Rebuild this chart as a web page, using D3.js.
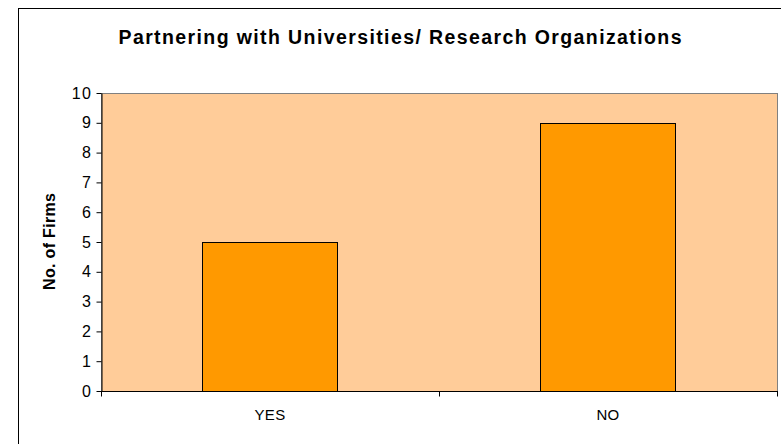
<!DOCTYPE html>
<html>
<head>
<meta charset="utf-8">
<script src="https://cdn.jsdelivr.net/npm/d3@7"></script>
<style>
  html, body { margin: 0; padding: 0; background: #fff; }
  svg { display: block; }
</style>
</head>
<body>
<svg id="chart" width="781" height="444"></svg>
<script>
// Survey responses: firms partnering with universities / research organizations
const categories = ["YES", "NO"];
const firmCounts = [5, 9];
const yTicks = [0, 1, 2, 3, 4, 5, 6, 7, 8, 9, 10];
const chartTitle = "Partnering with Universities/ Research Organizations";
const yTitle = "No. of Firms";

const svg = d3.select("#chart");
const font = "Arial, 'Liberation Sans', Helvetica, sans-serif";

// Outer chart frame
svg.append("rect")
  .attr("x", 18.5).attr("y", 8.5)
  .attr("width", 800).attr("height", 480)
  .attr("fill", "#fff").attr("stroke", "#000").attr("stroke-width", 1);

const plot = { left: 101, top: 93, right: 777, bottom: 391 };

const x = d3.scaleBand()
  .domain(categories)
  .range([plot.left, plot.right])
  .paddingInner(0.6)
  .paddingOuter(0.3);

const y = d3.scaleLinear()
  .domain([0, 10])
  .range([plot.bottom, plot.top]);

// Plot background
svg.append("rect")
  .attr("x", plot.left + 0.5).attr("y", plot.top + 0.5)
  .attr("width", plot.right - plot.left).attr("height", plot.bottom - plot.top)
  .attr("fill", "#ffcc99")
  .attr("stroke", "#808080").attr("stroke-width", 1);

// Bars
svg.append("g").selectAll("rect")
  .data(categories)
  .join("rect")
  .attr("x", d => Math.round(x(d)) + 0.5)
  .attr("y", (d, i) => Math.round(y(firmCounts[i])) + 0.5)
  .attr("width", Math.round(x.bandwidth()))
  .attr("height", (d, i) => Math.round(y(0)) - Math.round(y(firmCounts[i])))
  .attr("fill", "#ff9900")
  .attr("stroke", "#000")
  .attr("stroke-width", 1);

// Y axis
const yAxis = svg.append("g")
  .attr("transform", `translate(${plot.left + 0.5},0)`)
  .call(d3.axisLeft(y).tickValues(yTicks).tickSize(5).tickSizeOuter(0).tickPadding(4));
yAxis.select(".domain").attr("stroke", "#000");
yAxis.selectAll(".tick line").attr("stroke", "#000");
yAxis.selectAll(".tick text")
  .attr("font-family", font).attr("font-size", 16)
  .attr("letter-spacing", 1.5)
  .attr("fill", "#000");

// X axis with ticks at category boundaries
const xAxisG = svg.append("g")
  .attr("transform", `translate(0,${plot.bottom + 0.5})`);
xAxisG.append("line")
  .attr("x1", plot.left).attr("x2", plot.right + 1)
  .attr("stroke", "#000");
const bounds = d3.range(categories.length + 1)
  .map(i => plot.left + i * (plot.right - plot.left) / categories.length);
xAxisG.selectAll("line.tick")
  .data(bounds)
  .join("line")
  .attr("class", "tick")
  .attr("x1", d => Math.round(d) + 0.5).attr("x2", d => Math.round(d) + 0.5)
  .attr("y1", 0).attr("y2", 5)
  .attr("stroke", "#000");
xAxisG.selectAll("text")
  .data(categories)
  .join("text")
  .attr("x", d => x(d) + x.bandwidth() / 2)
  .attr("y", 28.5)
  .attr("text-anchor", "middle")
  .attr("font-family", font).attr("font-size", 15)
  .attr("letter-spacing", 0.3)
  .attr("fill", "#000")
  .text(d => d);

// Titles
svg.append("text")
  .attr("x", 400).attr("y", 44)
  .attr("text-anchor", "middle")
  .attr("font-family", font).attr("font-size", 19.5).attr("font-weight", "bold")
  .attr("textLength", 563).attr("lengthAdjust", "spacing")
  .text(chartTitle);

svg.append("text")
  .attr("transform", `translate(55,241.5) rotate(-90)`)
  .attr("text-anchor", "middle")
  .attr("font-family", font).attr("font-size", 16).attr("font-weight", "bold")
  .attr("textLength", 97).attr("lengthAdjust", "spacing")
  .text(yTitle);
</script>
</body>
</html>
